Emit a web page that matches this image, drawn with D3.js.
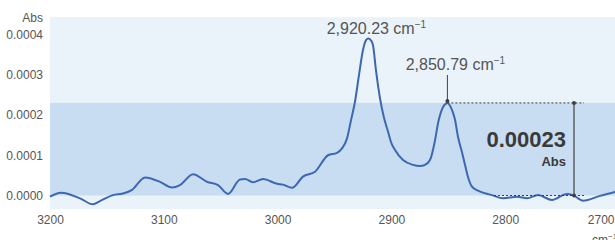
<!DOCTYPE html>
<html>
<head>
<meta charset="utf-8">
<script src="https://cdn.jsdelivr.net/npm/d3@7"></script>
<style>
	body { margin: 0; background: #fff; }
	svg { display: block; font-family: "Liberation Sans", Arial, sans-serif; }
	.tick text { fill: #555; font-size: 12px; }
</style>
</head>
<body>
<div id="chart"></div>
<script>
// wavenumber (cm-1) and absorbance
const wavenumbers = [3200, 3190.3, 3173.6, 3162.2, 3156.1, 3144.6, 3135.9, 3127.9, 3116.5, 3103.3,
	3092.8, 3085.8, 3074.3, 3062.0, 3052.4, 3043.6, 3033.0, 3028.6, 3021.6, 3012.8,
	3000.5, 2995.3, 2987.3, 2977.7, 2967.1, 2955.7, 2947.8, 2943.4, 2939.0, 2935.5,
	2932.0, 2928.5, 2925.0, 2922.3, 2920.2, 2917.6, 2916.2, 2913.6, 2910.0, 2906.5,
	2903.0, 2900.4, 2896.8, 2889.8, 2881.0, 2874.9, 2870.5, 2866.1, 2861.6, 2859.0,
	2854.6, 2850.8, 2846.7, 2844.1, 2841.5, 2838.0, 2835.3, 2832.7, 2829.2, 2823.9,
	2811.6, 2801.9, 2789.6, 2780.8, 2771.2, 2758.9, 2745.7, 2740.4, 2731.6, 2716.7,
	2703.5, 2700];
const absorbance = [-0.000003, 0.000007, -0.000007, -0.000022, -0.000014, 0.000001, 0.000005, 0.000014, 0.000045, 0.000034,
	0.000020, 0.000026, 0.000053, 0.000034, 0.000026, 0.000004, 0.000040, 0.000041, 0.000033, 0.000041,
	0.000029, 0.000027, 0.000019, 0.000047, 0.000059, 0.000100, 0.000106, 0.000117, 0.000142, 0.000187,
	0.000233, 0.000299, 0.000361, 0.000386, 0.000390, 0.000384, 0.000374, 0.000312, 0.000241, 0.000193,
	0.000159, 0.000133, 0.000113, 0.000088, 0.000076, 0.000073, 0.000076, 0.000088, 0.000138, 0.000180,
	0.000220, 0.000230, 0.000212, 0.000188, 0.000146, 0.000108, 0.000076, 0.000046, 0.000022, 0.000012,
	0.000001, -0.000007, -0.000003, -0.000007, 0.000001, -0.000011, 0.000004, 0.000001, -0.000013, -0.000001,
	0.000009, 0.000012];

const xTicks = [3200, 3100, 3000, 2900, 2800, 2700];
const yTicks = [0, 0.0001, 0.0002, 0.0003, 0.0004];

const peaks = [
	{ w: 2920.23, a: 0.000390, label: '2,920.23 cm' },
	{ w: 2850.79, a: 0.000230, label: '2,850.79 cm' },
];
const heightValue = 0.00023;
const heightLabel = '0.00023';
const heightUnit = 'Abs';

const plotTop = 0.000443;
const plotBottom = -0.0000335;

const width = 615;
const height = 240;

const svg = d3.select('#chart').append('svg')
	.attr('width', width)
	.attr('height', height);

const x = d3.scaleLinear().domain([3200, 2700]).range([50, 619]);
const y = d3.scaleLinear().domain([0, 0.0004]).range([195.5, 34.5]);

// background bands
svg.append('rect')
	.attr('x', x(3200))
	.attr('y', y(plotTop))
	.attr('width', width - x(3200))
	.attr('height', y(plotBottom) - y(plotTop))
	.attr('fill', '#eaf2fa');

svg.append('rect')
	.attr('x', x(3200))
	.attr('y', y(heightValue))
	.attr('width', width - x(3200))
	.attr('height', y(0) - y(heightValue))
	.attr('fill', '#c8ddf1');

// axes
const xAxis = d3.axisBottom(x).tickValues(xTicks).tickSize(0).tickPadding(0).tickFormat(d3.format('d'));
const gx = svg.append('g')
	.attr('transform', 'translate(0, 215)')
	.call(xAxis);
gx.select('.domain').remove();
gx.selectAll('.tick text').attr('dy', '0.71em');
gx.selectAll('.tick').filter((d) => d === 2700).select('text')
	.attr('text-anchor', 'end')
	.attr('x', -5);

svg.append('text')
	.attr('x', 592)
	.attr('y', 244)
	.attr('fill', '#555')
	.style('font-size', '12px')
	.text('cm')
	.append('tspan')
	.attr('dy', -5)
	.style('font-size', '8px')
	.text('\u22121');

const yAxis = d3.axisLeft(y).tickValues(yTicks).tickSize(0).tickPadding(0).tickFormat(d3.format('.4f'));
const gy = svg.append('g')
	.attr('transform', 'translate(43, 0)')
	.call(yAxis);
gy.select('.domain').remove();

svg.append('text')
	.attr('x', 43)
	.attr('y', 22)
	.attr('text-anchor', 'end')
	.attr('fill', '#555')
	.style('font-size', '12px')
	.text('Abs');

// spectrum
const line = d3.line()
	.x((d, i) => x(wavenumbers[i]))
	.y((d) => y(d))
	.curve(d3.curveMonotoneX);

svg.append('path')
	.datum(absorbance)
	.attr('d', line)
	.attr('fill', 'none')
	.attr('stroke', '#3d68b1')
	.attr('stroke-width', 2)
	.attr('stroke-linejoin', 'round');

// peak labels
const addPeakLabel = (p, tx, ty) => {
	const t = svg.append('text')
		.attr('x', tx)
		.attr('y', ty)
		.attr('text-anchor', 'middle')
		.attr('fill', '#555')
		.style('font-size', '16px')
		.text(p.label);
	t.append('tspan')
		.attr('dy', -6)
		.style('font-size', '10px')
		.text('\u22121');
};
addPeakLabel(peaks[0], x(peaks[0].w) + 8, 34);
addPeakLabel(peaks[1], x(peaks[1].w) + 8, 70);

// leader to second peak
const px = x(peaks[1].w);
svg.append('line')
	.attr('x1', px).attr('x2', px)
	.attr('y1', 75).attr('y2', y(peaks[1].a) - 2)
	.attr('stroke', '#404040')
	.attr('stroke-width', 1);
svg.append('circle')
	.attr('cx', px).attr('cy', y(peaks[1].a) - 2)
	.attr('r', 2)
	.attr('fill', '#404040');

// height measurement
const mx = 574;
svg.append('line')
	.attr('x1', px).attr('x2', 584)
	.attr('y1', y(heightValue)).attr('y2', y(heightValue))
	.attr('stroke', '#404040')
	.attr('stroke-dasharray', '2,2');
svg.append('line')
	.attr('x1', 494).attr('x2', 584)
	.attr('y1', y(0)).attr('y2', y(0))
	.attr('stroke', '#404040')
	.attr('stroke-dasharray', '2,2');
svg.append('line')
	.attr('x1', mx).attr('x2', mx)
	.attr('y1', y(heightValue)).attr('y2', y(0))
	.attr('stroke', '#404040')
	.attr('stroke-width', 1.2);
svg.selectAll('.enddot')
	.data([heightValue, 0])
	.join('circle')
	.attr('cx', mx)
	.attr('cy', (d) => y(d))
	.attr('r', 2)
	.attr('fill', '#404040');

svg.append('text')
	.attr('x', 566)
	.attr('y', 147)
	.attr('text-anchor', 'end')
	.attr('fill', '#3a3a3a')
	.style('font-size', '22px')
	.style('font-weight', 'bold')
	.text(heightLabel);
svg.append('text')
	.attr('x', 566)
	.attr('y', 166)
	.attr('text-anchor', 'end')
	.attr('fill', '#3a3a3a')
	.style('font-size', '13px')
	.style('font-weight', 'bold')
	.text(heightUnit);
</script>
</body>
</html>
